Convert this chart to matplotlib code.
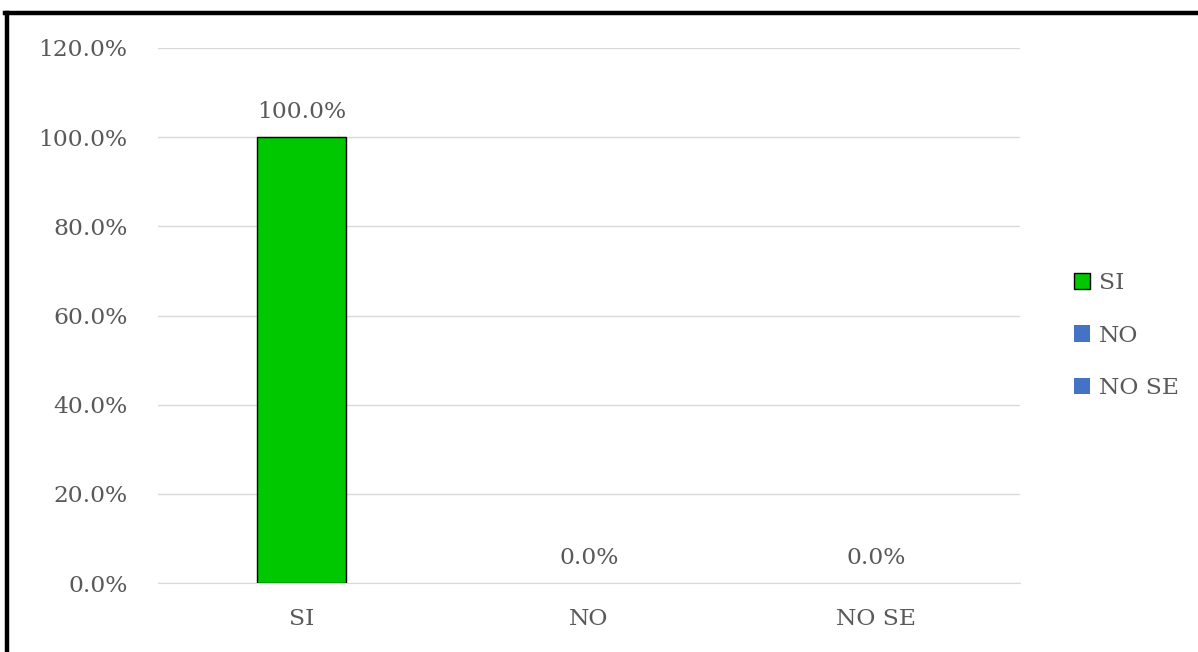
"""
plot.py: SI / NO / NO SE response share, bar chart with side legend.
Writes out.png (1198x652).
"""
import matplotlib
matplotlib.use("Agg")
import matplotlib.pyplot as plt
from matplotlib.lines import Line2D
from matplotlib.patches import Patch

# --- data ---------------------------------------------------------------------
categories = ["SI", "NO", "NO SE"]
percent = [100.0, 0.0, 0.0]
yticks = [0, 20, 40, 60, 80, 100, 120]

GREEN, BLUE = "#00C800", "#4472C4"
TEXT, GRID = "#595959", "#D9D9D9"
bar_colors = [GREEN, BLUE, BLUE]
bar_edges = ["black", "none", "none"]

plt.rcParams.update({"font.family": "DejaVu Serif", "font.size": 16.8})

fig = plt.figure(figsize=(11.98, 6.52), dpi=100)
ax = fig.add_axes([0.1320, 0.1058, 0.7194, 0.8206])

x = range(len(categories))
bars = ax.bar(x, percent, width=0.31, color=bar_colors, edgecolor=bar_edges,
              linewidth=1.0, zorder=3)
for b, v in zip(bars, percent):
    ax.annotate(f"{v:.1f}%", xy=(b.get_x() + b.get_width() / 2, v),
                xytext=(0, 10), textcoords="offset points", ha="center",
                va="bottom", color=TEXT)

ax.set_xlim(-0.5, len(categories) - 0.5)
ax.set_ylim(0, 120)
ax.set_yticks(yticks)
ax.set_yticklabels([f"{t:.1f}%" for t in yticks])
ax.set_xticks(list(x))
ax.set_xticklabels(categories)
ax.tick_params(length=0, colors=TEXT, labelcolor=TEXT)
ax.tick_params(axis="y", pad=22)
ax.tick_params(axis="x", pad=18)
ax.grid(axis="y", color=GRID, lw=1.0, zorder=0)
for side in ("top", "right", "left"):
    ax.spines[side].set_visible(False)
ax.spines["bottom"].set_color(GRID)

handles = [Patch(facecolor=c, edgecolor=e, linewidth=1.0)
           for c, e in zip(bar_colors, bar_edges)]
leg = fig.legend(handles, categories, loc="center left",
                 bbox_to_anchor=(0.879, 0.485), frameon=False,
                 handlelength=0.7, handleheight=0.7, handletextpad=0.35,
                 labelspacing=1.3, labelcolor=TEXT)

# outer frame: only the left and top edges show in the source
fig.add_artist(Line2D([0.0055, 0.0055], [0.0, 0.9805], color="black", lw=3.2,
                      transform=fig.transFigure))
fig.add_artist(Line2D([0.0042, 1.0], [0.9805, 0.9805], color="black", lw=3.2,
                      transform=fig.transFigure))

fig.savefig("out.png", dpi=100)
